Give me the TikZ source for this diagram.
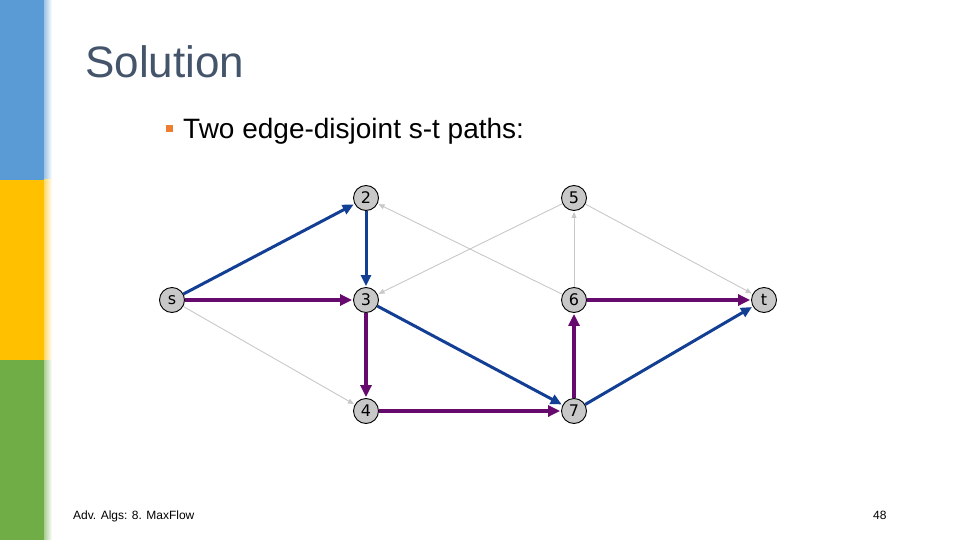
\documentclass[tikz,border=0pt]{standalone}
\usepackage{fontspec}
\setmainfont{Liberation Sans}
\newfontfamily\vertexfont{DejaVu Sans}
\usetikzlibrary{arrows.meta}
\definecolor{barblue}{HTML}{5B9BD5}
\definecolor{baryellow}{HTML}{FFC000}
\definecolor{bargreen}{HTML}{70AD47}
\definecolor{titlegray}{HTML}{44546A}
\definecolor{bulletorange}{HTML}{ED7D31}
\definecolor{vgray}{HTML}{C8C8C8}
\definecolor{edgegray}{HTML}{C8C8C8}
\definecolor{pathblue}{HTML}{123E93}
\definecolor{pathpurple}{HTML}{660A6E}

\begin{document}
\begin{tikzpicture}[x=1pt,y=-1pt,vert/.style={circle,draw=black,fill=vgray,line width=0.9pt,minimum size=25pt,inner sep=0pt,font=\vertexfont\fontsize{16}{16}\selectfont},bluearr/.style={-{Triangle[length=11pt,width=10pt]},line width=3pt,draw=pathblue,shorten >=1pt},purparr/.style={-{Triangle[length=12pt,width=11pt]},line width=3.5pt,draw=pathpurple,shorten >=1pt},grayarr/.style={-{Triangle[length=6pt,width=5pt]},line width=0.9pt,draw=edgegray,shorten >=1pt}]
\useasboundingbox (0,0) rectangle (960,540);
% side bar
\fill[barblue] (0,0) rectangle (44,180);
\fill[baryellow] (0,180) rectangle (44,360);
\fill[bargreen] (0,360) rectangle (44,540);
\shade[left color=barblue!60,right color=white] (44,0) rectangle (52,180);
\shade[left color=baryellow!60,right color=white] (44,180) rectangle (52,360);
\shade[left color=bargreen!60,right color=white] (44,360) rectangle (52,540);
% texts
\node[anchor=base west,inner sep=0pt,text=titlegray,font=\fontsize{44}{44}\selectfont] (title) at (85,78) {Solution};
\node[fill=bulletorange,minimum size=7pt,inner sep=0pt] (bullet) at (169,129) {};
\node[anchor=base west,inner sep=0pt,font=\fontsize{28}{28}\selectfont] (line1) at (183,139) {Two edge-disjoint s-t paths:};
\node[anchor=base west,inner sep=0pt,font=\fontsize{12}{12}\selectfont] (footer) at (73,519) {Adv. Algs: 8. MaxFlow};
\node[anchor=base west,inner sep=0pt,font=\fontsize{12}{12}\selectfont] (pagenum) at (873,519) {48};
% vertices
\node[vert] (s) at (172,300) {s};
\node[vert] (v2) at (366,198) {2};
\node[vert] (v3) at (366,300) {3};
\node[vert] (v4) at (366,411) {4};
\node[vert] (v5) at (574,198) {5};
\node[vert] (v6) at (574,300) {6};
\node[vert] (v7) at (574,411) {7};
\node[vert] (t) at (764,300) {t};
% unused edges
\draw[grayarr] (v6) -- (v2);
\draw[grayarr] (v5) -- (v3);
\draw[grayarr] (s) -- (v4);
\draw[grayarr] (v6) -- (v5);
\draw[grayarr] (v5) -- (t);
% path one
\draw[bluearr] (s) -- (v2);
\draw[bluearr] (v2) -- (v3);
\draw[bluearr] (v3) -- (v7);
\draw[bluearr] (v7) -- (t);
% path two
\draw[purparr] (s) -- (v3);
\draw[purparr] (v3) -- (v4);
\draw[purparr] (v4) -- (v7);
\draw[purparr] (v7) -- (v6);
\draw[purparr] (v6) -- (t);
\end{tikzpicture}
\end{document}
